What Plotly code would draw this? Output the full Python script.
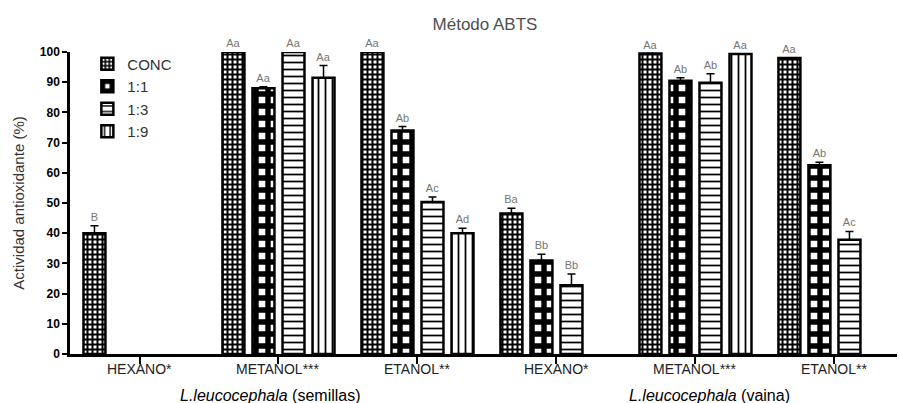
import plotly.graph_objects as go

# ---- data ----
categories = ["HEXANO*", "METANOL***", "ETANOL**", "HEXANO*", "METANOL***", "ETANOL**"]
series_names = ["CONC", "1:1", "1:3", "1:9"]

conc = [40, 100, 100, 46.5, 99.5, 98]
conc_err = [2.5, 0, 0, 1.8, 0, 0]
conc_lbl = ["B", "Aa", "Aa", "Ba", "Aa", "Aa"]

r11 = [None, 88, 74, 31, 90.5, 62.5]
r11_err = [0, 0.5, 1.3, 2.0, 1.0, 1.0]
r11_lbl = ["", "Aa", "Ab", "Bb", "Ab", "Ab"]

r13 = [None, 100, 50.3, 22.8, 89.8, 37.8]
r13_err = [0, 0, 1.7, 3.7, 3.0, 2.8]
r13_lbl = ["", "Aa", "Ac", "Bb", "Ab", "Ac"]

r19 = [None, 91.5, 40, None, 99.3, None]
r19_err = [0, 4.0, 1.6, 0, 0, 0]
r19_lbl = ["", "Aa", "Ad", "", "Aa", ""]

y_ticks = [0, 10, 20, 30, 40, 50, 60, 70, 80, 90, 100]
group_titles = ["semillas", "vaina"]

# ---- styling ----
FONT = "Liberation Sans, Arial, sans-serif"
x = list(range(len(categories)))
pitch = 0.216
bw = 0.158

patterns = [
    dict(shape="+", size=5, solidity=0.64, fgcolor="black", bgcolor="white", fgopacity=1),
    dict(shape="+", size=12, solidity=0.7, fgcolor="black", bgcolor="white", fgopacity=1),
    dict(shape="-", size=7, solidity=0.25, fgcolor="black", bgcolor="white", fgopacity=1),
    dict(shape="|", size=7, solidity=0.25, fgcolor="black", bgcolor="white", fgopacity=1),
]

all_vals = [conc, r11, r13, r19]
all_err = [conc_err, r11_err, r13_err, r19_err]
all_lbl = [conc_lbl, r11_lbl, r13_lbl, r19_lbl]

fig = go.Figure()
for s, (name, vals, errs, lbls) in enumerate(zip(series_names, all_vals, all_err, all_lbl)):
    off = (s - 1.5) * pitch - bw / 2
    fig.add_trace(go.Bar(
        x=x, y=vals, name=name, width=bw, offset=off,
        marker=dict(color="white", opacity=1, line=dict(color="black", width=2.5), pattern=patterns[s]),
        error_y=dict(type="data", symmetric=False, array=errs,
                     arrayminus=[0] * len(errs), color="black", thickness=1.5, width=4),
        cliponaxis=False, hoverinfo="skip",
    ))
    tops = [None if v is None else v + e for v, e in zip(vals, errs)]
    fig.add_trace(go.Bar(
        x=x, y=tops, width=bw, offset=off, showlegend=False,
        marker=dict(color="rgba(0,0,0,0)", line=dict(width=0)),
        text=lbls, textposition="outside", constraintext="none",
        textfont=dict(family=FONT, size=11, color="#757575"),
        cliponaxis=False, hoverinfo="skip",
    ))

L, R, T, B = 70, 2, 52, 49
W, H = 899, 403
PW, PH = W - L - R, H - T - B
XR = [-0.5, 5.45]

fig.update_layout(
    width=W, height=H,
    margin=dict(l=L, r=R, t=T, b=B),
    barmode="overlay",
    plot_bgcolor="white", paper_bgcolor="white",
    font=dict(family=FONT, color="black"),
    title=dict(text="Método ABTS", x=485 / W, xref="container", xanchor="center",
               y=1 - 24 / H, yref="container", yanchor="middle",
               font=dict(size=17, color="#505050")),
    xaxis=dict(range=XR, tickmode="array", tickvals=x, ticktext=categories, showticklabels=False,
               showline=True, linecolor="black", linewidth=2.5, ticks="outside", ticklen=7,
               tickwidth=1.5, tickcolor="black", showgrid=False, zeroline=False),
    yaxis=dict(range=[0, 100], tickmode="array", tickvals=y_ticks,
               showline=True, linecolor="black", linewidth=2.5, ticks="outside", ticklen=5,
               tickwidth=2, tickcolor="black", showgrid=False, zeroline=False,
               tickfont=dict(size=12, color="black", weight="bold"),
               title=dict(text="Actividad antioxidante (%)", font=dict(size=15, color="#333333"), standoff=12)),
    legend=dict(x=0.021, y=1.015, xanchor="left", yanchor="top", bgcolor="rgba(0,0,0,0)",
                font=dict(size=15, color="#333333"), tracegroupgap=4),
    showlegend=True,
)

for xi, lab in zip(x, categories):
    fig.add_annotation(x=xi, xref="x", y=-15 / PH, yref="paper", xanchor="center", yanchor="middle",
                       text=lab, showarrow=False, font=dict(size=14, color="#222222"))

for px, t in zip([270, 709], group_titles):
    fig.add_annotation(x=(px - L) / PW, xref="paper", y=-41 / PH, yref="paper",
                       xanchor="center", yanchor="middle",
                       text=f"<i>L.leucocephala</i> ({t})", showarrow=False,
                       font=dict(size=16, color="black"))

fig.write_html("out.html", config={"displayModeBar": False},
               post_script="document.body.style.margin='0';document.body.style.overflow='hidden';")
